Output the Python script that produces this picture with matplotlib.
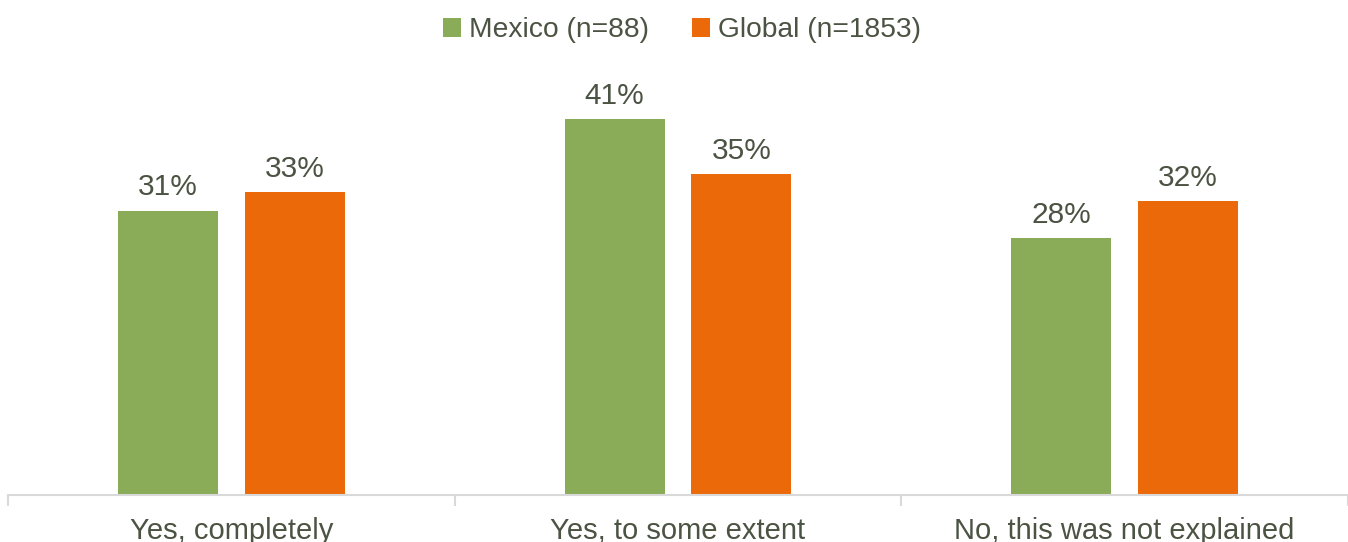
import matplotlib.pyplot as plt
import numpy as np

categories = ["Yes, completely", "Yes, to some extent", "No, this was not explained"]
mexico = [31, 41, 28]
global_ = [33, 35, 32]
series_labels = ["Mexico (n=88)", "Global (n=1853)"]

GREEN = "#8aac59"
ORANGE = "#eb6909"
TEXT = "#4b5343"
AXIS = "#d9d9d9"

plt.rcParams["font.family"] = ["Liberation Sans", "DejaVu Sans"]

fig = plt.figure(figsize=(13.48, 5.42), dpi=100)
ax = fig.add_axes([8 / 1348, 47 / 542, 1340 / 1348, 435 / 542])

x = np.arange(len(categories))
w = 0.224
off = 0.142
b1 = ax.bar(x - off, mexico, w, color=GREEN, label=series_labels[0])
b2 = ax.bar(x + off, global_, w, color=ORANGE, label=series_labels[1])

for bars, vals in ((b1, mexico), (b2, global_)):
    for bar, v in zip(bars, vals):
        ax.text(bar.get_x() + bar.get_width() / 2, v + 1.0, f"{v}%",
                ha="center", va="bottom", fontsize=21.5, color=TEXT)

ax.set_xlim(-0.5, 2.5)
ax.set_ylim(0, 47.4)
ax.set_yticks([])
for s in ("top", "right", "left"):
    ax.spines[s].set_visible(False)
ax.spines["bottom"].set_color(AXIS)
ax.spines["bottom"].set_linewidth(1.5)

ax.set_xticks(x)
ax.set_xticklabels(categories, fontsize=21, color=TEXT)
ax.tick_params(axis="x", which="major", length=0, pad=16)
ax.set_xticks([-0.5, 0.5, 1.5, 2.5], minor=True)
ax.tick_params(axis="x", which="minor", length=8, width=1.5, color=AXIS)

leg = fig.legend(handles=[b1, b2], loc="center", bbox_to_anchor=(682 / 1348, 1 - 30 / 542),
                 ncol=2, frameon=False, fontsize=20.3, handlelength=0.65,
                 handleheight=0.65, handletextpad=0.3, columnspacing=1.5)
for t in leg.get_texts():
    t.set_color(TEXT)

fig.savefig("out.png", dpi=100)
